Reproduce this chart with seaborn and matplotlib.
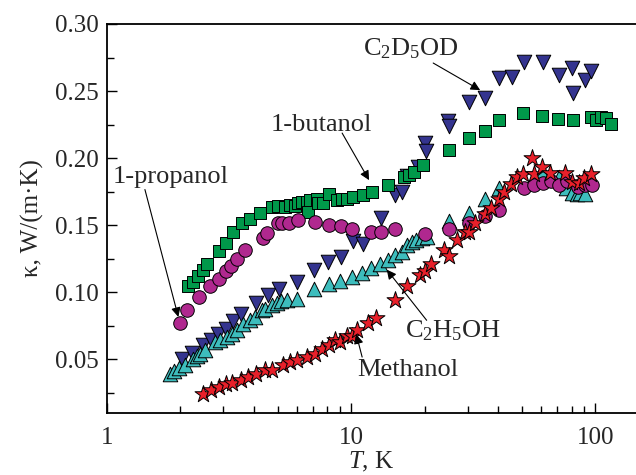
import matplotlib
matplotlib.use("Agg")
import matplotlib.pyplot as plt
from matplotlib.ticker import LogLocator, MultipleLocator, FixedLocator, FixedFormatter, NullFormatter, FormatStrFormatter
import numpy as np
import pandas as pd
import seaborn as sns

# Thermal conductivity of alcohols versus temperature
butanol_T = [2.15, 2.26, 2.37, 2.48, 2.58, 2.89, 3.07, 3.29, 3.56, 3.85, 4.24, 4.73, 5.04, 5.37,
             5.62, 5.89, 6.08, 6.28, 6.58, 6.68, 6.79, 7.23, 7.35, 7.70, 8.15, 8.74, 9.16, 9.60,
             10.2, 11.2, 12.2, 14.2, 16.4, 17.2, 18.1, 19.8, 25.1, 30.3, 35.4, 40.5, 50.7, 60.8,
             70.4, 81.5, 96.0, 100.7, 105.9, 110.7, 115.9]
butanol_k = [0.1045, 0.1077, 0.1120, 0.1164, 0.1214, 0.1306, 0.1368, 0.1450, 0.1517, 0.1545,
             0.1592, 0.1637, 0.1642, 0.1637, 0.1654, 0.1642, 0.1662, 0.1674, 0.1674, 0.1599,
             0.1687, 0.1699, 0.1662, 0.1662, 0.1731, 0.1687, 0.1692, 0.1699, 0.1711, 0.1724,
             0.1749, 0.1799, 0.1861, 0.1873, 0.1898, 0.1948, 0.2060, 0.2151, 0.2204, 0.2284,
             0.2340, 0.2317, 0.2295, 0.2284, 0.2304, 0.2284, 0.2304, 0.2296, 0.2252]

propanol_T = [2.00, 2.13, 2.38, 2.64, 2.88, 3.06, 3.22, 3.42, 3.68, 4.37, 4.54, 5.04, 5.20, 5.59,
              6.08, 7.12, 8.15, 9.08, 10.1, 12.1, 13.2, 15.1, 20.0, 25.3, 30.5, 35.4, 40.5, 50.9,
              55.9, 60.9, 66.0, 71.3, 76.4, 85.4, 91.0, 96.9]
propanol_k = [0.0774, 0.0871, 0.0965, 0.1045, 0.1102, 0.1157, 0.1197, 0.1251, 0.1313, 0.1401,
              0.1443, 0.1513, 0.1517, 0.1520, 0.1537, 0.1525, 0.1505, 0.1493, 0.1475, 0.1446,
              0.1450, 0.1468, 0.1438, 0.1475, 0.1517, 0.1570, 0.1617, 0.1774, 0.1799, 0.1813,
              0.1832, 0.1799, 0.1826, 0.1787, 0.1801, 0.1801]

d5_T = [2.02, 2.22, 2.47, 2.67, 2.86, 3.07, 3.27, 3.54, 4.08, 4.58, 5.07, 5.99, 7.05, 8.07, 9.08,
        10.2, 11.2, 13.2, 15.1, 16.1, 17.0, 18.8, 20.0, 20.2, 24.9, 25.2, 30.5, 35.4, 40.5, 45.6,
        50.9, 60.9, 70.8, 80.0, 80.9, 90.7, 96.0]
d5_k = [0.0505, 0.0547, 0.0604, 0.0647, 0.0692, 0.0729, 0.0786, 0.0841, 0.0920, 0.0978, 0.1024,
        0.1077, 0.1164, 0.1226, 0.1263, 0.1383, 0.1358, 0.1550, 0.1724, 0.1749, 0.1866, 0.1933,
        0.2110, 0.2052, 0.2280, 0.2239, 0.2418, 0.2448, 0.2595, 0.2607, 0.2719, 0.2716, 0.2619,
        0.2675, 0.2489, 0.2582, 0.2653]

ethanol_T = [1.81, 1.88, 1.98, 2.09, 2.26, 2.33, 2.40, 2.52, 2.77, 2.91, 3.10, 3.24, 3.40, 3.62,
             3.86, 4.04, 4.31, 4.44, 4.73, 4.96, 5.15, 5.45, 5.99, 7.05, 8.15, 9.01, 10.07, 11.1,
             12.1, 13.1, 14.2, 15.1, 16.1, 16.9, 17.7, 18.5, 19.5, 20.4, 25.2, 30.5, 35.4, 40.5,
             60.8, 71.2, 76.1, 80.2, 84.1, 86.8, 91.0]
ethanol_k = [0.0388, 0.0413, 0.0438, 0.0455, 0.0505, 0.0522, 0.0537, 0.0567, 0.0629, 0.0647,
             0.0667, 0.0692, 0.0722, 0.0766, 0.0796, 0.0816, 0.0866, 0.0878, 0.0903, 0.0920,
             0.0935, 0.0940, 0.0953, 0.1028, 0.1065, 0.1084, 0.1114, 0.1140, 0.1181, 0.1214,
             0.1239, 0.1276, 0.1301, 0.1351, 0.1375, 0.1388, 0.1401, 0.1413, 0.1532, 0.1592,
             0.1699, 0.1781, 0.1886, 0.1856, 0.1774, 0.1741, 0.1729, 0.1741, 0.1736]

methanol_T = [2.47, 2.67, 2.88, 3.07, 3.24, 3.54, 3.77, 4.08, 4.44, 4.73, 5.25, 5.62, 5.99, 6.58,
              7.12, 7.62, 8.13, 8.60, 9.01, 9.66, 10.1, 10.6, 11.7, 12.7, 15.1, 17.0, 19.1, 20.1,
              21.3, 24.0, 25.2, 27.1, 29.3, 30.5, 32.2, 35.4, 37.4, 40.5, 42.4, 45.3, 47.8, 50.5,
              55.0, 56.2, 60.5, 65.4, 75.4, 80.7, 86.0, 90.4, 96.0]
methanol_k = [0.0244, 0.0269, 0.0293, 0.0313, 0.0323, 0.0348, 0.0368, 0.0393, 0.0418, 0.0423,
              0.0455, 0.0480, 0.0493, 0.0517, 0.0543, 0.0580, 0.0604, 0.0642, 0.0629, 0.0672,
              0.0672, 0.0716, 0.0771, 0.0808, 0.0946, 0.1045, 0.1127, 0.1159, 0.1214, 0.1313,
              0.1269, 0.1393, 0.1450, 0.1450, 0.1513, 0.1587, 0.1632, 0.1699, 0.1749, 0.1806,
              0.1856, 0.1881, 0.1998, 0.1881, 0.1931, 0.1890, 0.1890, 0.1823, 0.1816, 0.1853,
              0.1881]

x_ticks = [1, 10, 100]
x_tick_labels = ["1", "10", "100"]

sns.set_style("ticks")
plt.rcParams["font.family"] = ["Liberation Serif", "DejaVu Serif"]
plt.rcParams["mathtext.fontset"] = "custom"
plt.rcParams["mathtext.rm"] = "Liberation Serif"
plt.rcParams["mathtext.it"] = "Liberation Serif:italic"

fig = plt.figure(figsize=(6.36, 4.75), dpi=100)
ax = fig.add_axes([107 / 636, 1 - 413 / 475, 1 - 107 / 636, (413 - 24) / 475])

# drawing order: lower layers first
series = [
    (d5_T, d5_k, "v", "#34348F", 110),
    (ethanol_T, ethanol_k, "^", "#3DBDBD", 110),
    (butanol_T, butanol_k, "s", "#00984A", 75),
    (propanol_T, propanol_k, "o", "#B0288F", 95),
    (methanol_T, methanol_k, "*", "#E8202A", 165),
]
for T, k, mk, col, sz in series:
    df = pd.DataFrame({"T": T, "k": k})
    sns.scatterplot(data=df, x="T", y="k", ax=ax, marker=mk, color=col, s=sz,
                    edgecolor="black", linewidth=0.7, legend=False, zorder=3)

ax.set_xscale("log")
ax.set_xlim(1, 147)
ax.set_ylim(0.01, 0.30)

ax.xaxis.set_major_locator(FixedLocator(x_ticks))
ax.xaxis.set_major_formatter(FixedFormatter(x_tick_labels))
ax.xaxis.set_minor_locator(LogLocator(base=10, subs=np.arange(2, 10)))
ax.xaxis.set_minor_formatter(NullFormatter())
ax.yaxis.set_major_locator(MultipleLocator(0.05))
ax.yaxis.set_minor_locator(MultipleLocator(0.025))
ax.yaxis.set_major_formatter(FormatStrFormatter("%.2f"))

ax.tick_params(which="both", direction="in", top=False, right=False, labelsize=18,
               width=1.0, color="black")
ax.tick_params(which="major", length=7)
ax.tick_params(axis="x", which="major", pad=10)
ax.tick_params(axis="y", which="major", pad=6)
ax.tick_params(which="minor", length=5)
for side in ["left", "bottom", "top"]:
    ax.spines[side].set_linewidth(1.3)
    ax.spines[side].set_color("black")
ax.spines["right"].set_visible(False)

ax.set_xlabel("$T$, K", fontsize=18, labelpad=1)
ax.set_ylabel("κ, W/(m·K)", fontsize=18, labelpad=8)

# series labels with pointer arrows
arrow = dict(arrowstyle="-|>", color="black", lw=0.8, shrinkA=0, shrinkB=0,
             mutation_scale=14)
labels = [
    ("C$_2$D$_5$OD", (17.5, 0.2769), (21.7, 0.2709), (33.8, 0.2507)),
    ("1-butanol", (7.57, 0.2204), (9.19, 0.2187), (11.85, 0.1836)),
    ("1-propanol", (1.82, 0.1813), (1.43, 0.1766), (1.96, 0.0816)),
    ("C$_2$H$_5$OH", (26.2, 0.0664), (20.4, 0.0791), (14.0, 0.1169)),
    ("Methanol", (17.1, 0.0373), (11.1, 0.0517), (10.5, 0.0687)),
]
for txt, pos, tail, head in labels:
    ax.text(pos[0], pos[1], txt, fontsize=19, ha="center", va="baseline", zorder=5)
    ax.annotate("", xy=head, xytext=tail, arrowprops=arrow, zorder=4)

fig.savefig("out.png", dpi=100)
